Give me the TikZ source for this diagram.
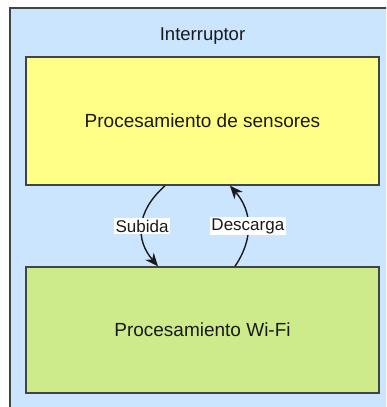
\documentclass[tikz,border=0pt]{standalone}
\usepackage{fontspec}
\setmainfont{Liberation Sans}
\usetikzlibrary{arrows.meta,calc}

\definecolor{swfill}{HTML}{CCE5FF}
\definecolor{sensfill}{HTML}{FFFF88}
\definecolor{wififill}{HTML}{CDEB8B}
\definecolor{edgegray}{HTML}{414447}
\definecolor{txt}{HTML}{1A1A1A}

\tikzset{
  procbox/.style={draw=edgegray, line width=1.5pt, rectangle,
    minimum width=353pt, inner sep=0pt, text=txt,
    font=\fontsize{19}{23}\selectfont},
  flow/.style={draw=txt, line width=1.4pt,
    -{Stealth[length=13pt,width=11pt,inset=4pt]}},
  flowlabel/.style={fill=white, text=txt, inner sep=1.5pt,
    font=\fontsize{17}{20}\selectfont}
}

\begin{document}
\begin{tikzpicture}[x=1pt,y=-1pt]
  \useasboundingbox (0,0) rectangle (386,407);
  \clip (0,0) rectangle (386,407);

  % container
  \fill[white] (0,0) rectangle (386,407);
  \draw[draw=edgegray, line width=1.5pt, fill=swfill] (10,8) rectangle (395,420);
  \node[anchor=base, text=txt, font=\fontsize{18.5}{22}\selectfont] (title) at (202.5,40) {Interruptor};

  % processing blocks
  \node[procbox, fill=sensfill, minimum height=128pt] (sens) at (202.5,121) {Procesamiento de sensores};
  \node[procbox, fill=wififill, minimum height=126pt] (wifi) at (202.5,330) {Procesamiento Wi-Fi};

  % data flows
  \coordinate (upA) at ($(sens.south)+(-37.5,0)$);
  \coordinate (upB) at ($(wifi.north)+(-44.5,0)$);
  \coordinate (dnA) at ($(wifi.north)+(32.5,0)$);
  \coordinate (dnB) at ($(sens.south)+(27.5,0)$);

  \draw[flow] (upA) .. controls (135.5,212) and (135.5,240) .. (upB)
    node[flowlabel, pos=0.5] {Subida};
  \draw[flow] (dnA) .. controls (253,240) and (253,212) .. (dnB)
    node[flowlabel, pos=0.5] {Descarga};
\end{tikzpicture}
\end{document}
